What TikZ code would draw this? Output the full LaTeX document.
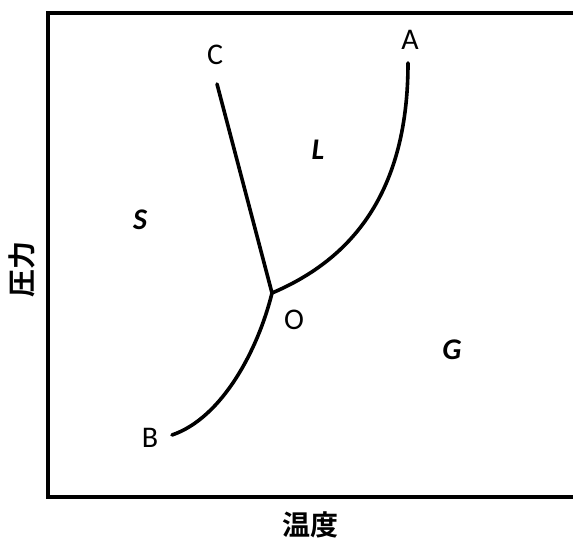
\documentclass[tikz,border=0pt]{standalone}
\usepackage{fontspec}
\setmainfont{Carlito}
\newfontfamily\cjk{Noto Sans CJK JP}[BoldFont={Noto Sans CJK JP Bold}]
\usetikzlibrary{positioning}

\begin{document}
\begin{tikzpicture}[
  x=0.5pt, y=-0.5pt,
  font=\fontsize{15}{17}\selectfont,
  pt/.style={font=\fontsize{15}{17}\selectfont},
  phase/.style={font=\fontsize{15}{17}\selectfont\bfseries\itshape},
  axlab/.style={font=\fontsize{14}{16}\selectfont\cjk\bfseries},
  curve/.style={line width=1.8pt, line cap=round},
  frame/.style={line width=1.8pt},
]
\useasboundingbox (0,0) rectangle (573,545);

%% ---------- frame (right side open) ----------
\coordinate (tl) at (48,13);
\coordinate (tr) at (580,13);
\coordinate (bl) at (48,497);
\coordinate (br) at (580,497);
\draw[frame] (tr) -- (tl) -- (bl) -- (br);

%% ---------- phase boundaries ----------
\coordinate (O) at (272,293);
\coordinate (Aend) at (408,63);
\coordinate (Bend) at (172,435);
\coordinate (Cend) at (217,84);

\draw[curve] (O) -- (Cend);
\draw[curve] (O) .. controls (345,262) and (408,200) .. (Aend);
\draw[curve] (O) .. controls (258,350) and (222,418) .. (Bend);

%% ---------- point labels ----------
\node[pt] (labA) at (410,40) {A};
\node[pt] (labC) at (215,55) {C};
\node[pt] (labO) at (294,320) {O};
\node[pt] (labB) at (150,438) {B};

%% ---------- phase regions ----------
\node[phase] (L) at (318,150) {L};
\node[phase] (S) at (140,220) {S};
\node[phase] (G) at (452,350) {G};

%% ---------- axes ----------
\node[axlab] (xlab) at (310,525) {温度};
\node[axlab, rotate=90] (ylab) at (22,270) {圧力};

\end{tikzpicture}
\end{document}
